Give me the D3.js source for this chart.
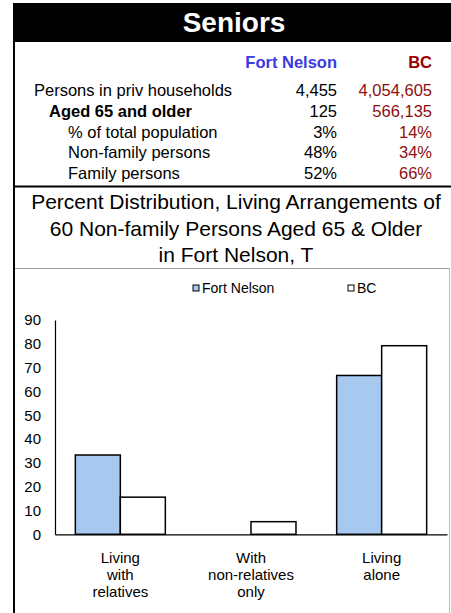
<!DOCTYPE html>
<html><head><meta charset="utf-8">
<script src="https://cdn.jsdelivr.net/npm/d3@7"></script>
<style>body{margin:0;background:#fff}svg{display:block}text{font-family:"Liberation Sans",Arial,sans-serif}</style>
</head><body>
<script>
const title = "Seniors";
const tableHeaders = ["Fort Nelson", "BC"];
const rowLabels = ["Persons in priv households", "Aged 65 and older", "% of total population", "Non-family persons", "Family persons"];
const rowIndent = [0, 1, 2, 2, 2];
const fortNelsonStats = ["4,455", "125", "3%", "48%", "52%"];
const bcStats = ["4,054,605", "566,135", "14%", "34%", "66%"];
const chartTitle = ["Percent Distribution, Living Arrangements of", "60 Non-family Persons Aged 65 & Older", "in Fort Nelson, T"];
const categories = [["Living", "with", "relatives"], ["With", "non-relatives", "only"], ["Living", "alone"]];
const seriesNames = ["Fort Nelson", "BC"];
const fortNelsonValues = [33.3, 0, 66.7];
const bcValues = [15.6, 5.3, 79.2];
const yTicks = [0, 10, 20, 30, 40, 50, 60, 70, 80, 90];

const W = 451, H = 613;
const svg = d3.select("body").append("svg").attr("width", W).attr("height", H);

// header
svg.append("rect").attr("x", 13).attr("y", 3).attr("width", W - 13).attr("height", 39).attr("fill", "#000");
svg.append("text").attr("x", 234).attr("y", 32).attr("text-anchor", "middle")
  .attr("fill", "#fff").attr("font-weight", "bold").attr("font-size", 28).text(title);

// borders
svg.append("line").attr("x1", 14).attr("x2", 14).attr("y1", 42).attr("y2", H).attr("stroke", "#000").attr("stroke-width", 2);
svg.append("line").attr("x1", 14).attr("x2", W).attr("y1", 186.5).attr("y2", 186.5).attr("stroke", "#000").attr("stroke-width", 2);
svg.append("line").attr("x1", 15).attr("x2", 449.5).attr("y1", 268.5).attr("y2", 268.5).attr("stroke", "#999").attr("stroke-width", 1);
svg.append("line").attr("x1", 449.5).attr("x2", 449.5).attr("y1", 268.5).attr("y2", H).attr("stroke", "#bbb").attr("stroke-width", 1);

// table
const colFN = 337, colBC = 432;
const tf = 16.5;
svg.append("text").attr("x", colFN).attr("y", 68).attr("text-anchor", "end").attr("font-weight", "bold")
  .attr("font-size", tf).attr("fill", "#3a3ae0").text(tableHeaders[0]);
svg.append("text").attr("x", colBC).attr("y", 68).attr("text-anchor", "end").attr("font-weight", "bold")
  .attr("font-size", tf).attr("fill", "#990000").text(tableHeaders[1]);
const indentX = [34, 49, 68];
const rowY = d3.scaleLinear().domain([0, 4]).range([96, 179]);
rowLabels.forEach((lab, i) => {
  const y = rowY(i);
  svg.append("text").attr("x", indentX[rowIndent[i]]).attr("y", y).attr("font-size", tf)
    .attr("font-weight", i === 1 ? "bold" : "normal").attr("fill", "#000").text(lab);
  svg.append("text").attr("x", colFN).attr("y", y).attr("text-anchor", "end").attr("font-size", tf).attr("fill", "#000").text(fortNelsonStats[i]);
  svg.append("text").attr("x", colBC).attr("y", y).attr("text-anchor", "end").attr("font-size", tf).attr("fill", "#8b0f0f").text(bcStats[i]);
});

// chart title
chartTitle.forEach((t, i) => {
  svg.append("text").attr("x", 236).attr("y", 209 + i * 26.5).attr("text-anchor", "middle")
    .attr("font-size", 21).attr("fill", "#000").text(t);
});

// legend
const colors = ["#a7c8ef", "#ffffff"];
const legX = [193, 348];
seriesNames.forEach((s, i) => {
  svg.append("rect").attr("x", legX[i]).attr("y", 285).attr("width", 6).attr("height", 6)
    .attr("fill", colors[i]).attr("stroke", "#000").attr("stroke-width", 1);
  svg.append("text").attr("x", legX[i] + 9).attr("y", 293).attr("font-size", 14).attr("fill", "#000").text(s);
});

// chart
const x0 = 55, x1 = 447, yTop = 320, yBot = 534.3;
const y = d3.scaleLinear().domain([0, 90]).range([yBot, yTop]);
const xBand = d3.scaleBand().domain(d3.range(categories.length)).range([x0, x1]).paddingInner(0).paddingOuter(0);
const xSub = d3.scaleBand().domain(d3.range(seriesNames.length)).range([0, xBand.bandwidth()]).paddingInner(0).paddingOuter(0.452);

const series = [fortNelsonValues, bcValues];
series.forEach((vals, si) => {
  svg.append("g").selectAll("rect").data(vals.map((v, ci) => ({v, ci})).filter(d => d.v > 0)).join("rect")
    .attr("x", d => xBand(d.ci) + xSub(si))
    .attr("y", d => y(d.v))
    .attr("width", xSub.bandwidth())
    .attr("height", d => yBot - y(d.v))
    .attr("fill", colors[si]).attr("stroke", "#000").attr("stroke-width", 1.5);
});

const yAxis = d3.axisLeft(y).tickValues(yTicks).tickSize(0).tickPadding(14);
const gy = svg.append("g").attr("transform", `translate(${x0},0)`).call(yAxis);
gy.select(".domain").attr("stroke", "#000").attr("stroke-width", 1.2);
gy.selectAll("text").attr("font-size", 15).attr("fill", "#000").attr("font-family", "Liberation Sans, Arial, sans-serif");

const xAxis = d3.axisBottom(xBand).tickSize(0).tickFormat(() => "");
const gx = svg.append("g").attr("transform", `translate(0,${yBot})`).call(xAxis);
gx.select(".domain").attr("stroke", "#000").attr("stroke-width", 1.2);

categories.forEach((lines, ci) => {
  const cx = xBand(ci) + xBand.bandwidth() / 2;
  lines.forEach((l, li) => {
    svg.append("text").attr("x", cx).attr("y", 563 + li * 17).attr("text-anchor", "middle")
      .attr("font-size", 15).attr("fill", "#000").text(l);
  });
});
</script>
</body></html>
